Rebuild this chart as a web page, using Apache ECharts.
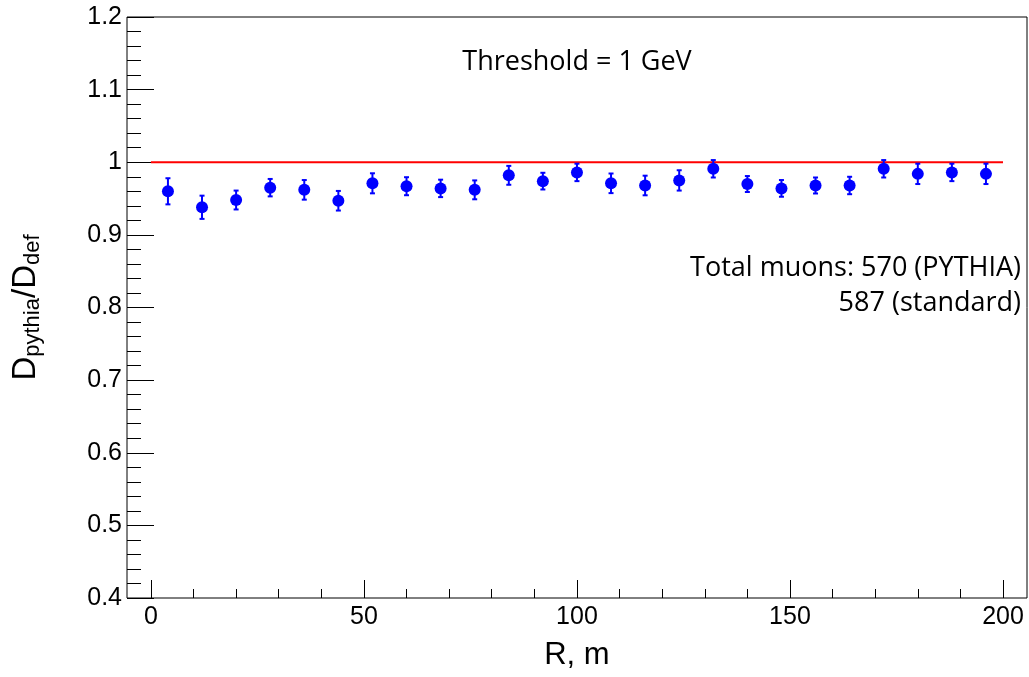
<!DOCTYPE html>
<html>
<head>
<meta charset="utf-8">
<script src="https://cdn.jsdelivr.net/npm/echarts@6/dist/echarts.min.js"></script>
<style>
  html, body { margin: 0; padding: 0; background: #fff; }
  #chart { width: 1029px; height: 677px; }
</style>
</head>
<body>
<div id="chart"></div>
<script>
// R bins (centres), ratio and its errors
const rValues = [4, 12, 20, 28, 36, 44, 52, 60, 68, 76, 84, 92, 100, 108, 116, 124, 132, 140, 148, 156, 164, 172, 180, 188, 196];
const ratio = [0.960, 0.938, 0.948, 0.965, 0.962, 0.947, 0.971, 0.967, 0.964, 0.962, 0.982, 0.974, 0.986,
               0.971, 0.968, 0.975, 0.991, 0.970, 0.964, 0.968, 0.968, 0.991, 0.984, 0.986, 0.984];
const ratioErr = [0.018, 0.016, 0.013, 0.012, 0.0135, 0.0135, 0.0138, 0.0124, 0.012, 0.013, 0.013, 0.0115, 0.012,
                  0.0135, 0.0135, 0.014, 0.012, 0.011, 0.0115, 0.011, 0.012, 0.012, 0.014, 0.012, 0.014];
const refLineX = [0, 200];
const refLineY = [1, 1];
const xTicks = { min: 0, max: 200, step: 50 };
const yTicks = { min: 0.4, max: 1.2, step: 0.1 };

const axisFont = 'Liberation Sans';

const points = rValues.map((r, i) => [r, ratio[i], ratioErr[i]]);
const refLine = refLineX.map((x, i) => [x, refLineY[i]]);

const chart = echarts.init(document.getElementById('chart'), null, { renderer: 'canvas' });

chart.setOption({
    animation: false,
    backgroundColor: '#fff',
    grid: [
        // frame
        { left: 127, right: 2, top: 17, bottom: 79, show: true, borderColor: '#000', borderWidth: 1, backgroundColor: 'transparent' },
        // data area (0..200 on x)
        { left: 150.9, right: 26, top: 17, bottom: 79, show: false }
    ],
    xAxis: [
        { gridIndex: 0, type: 'value', min: -5.6, max: 205.6, show: false },
        {
            gridIndex: 1, type: 'value', min: xTicks.min, max: xTicks.max, interval: xTicks.step,
            name: 'R, m', nameLocation: 'middle', nameGap: 42,
            nameTextStyle: { fontFamily: axisFont, fontSize: 31, color: '#000' },
            axisLine: { show: false, onZero: false },
            axisTick: { show: true, inside: true, length: 18, lineStyle: { color: '#000' } },
            minorTick: { show: true, splitNumber: 5, length: 9, lineStyle: { color: '#000' } },
            axisLabel: { fontFamily: axisFont, fontSize: 25, color: '#000', margin: 7 },
            splitLine: { show: false }
        }
    ],
    yAxis: [
        {
            gridIndex: 0, type: 'value', min: yTicks.min, max: yTicks.max, interval: yTicks.step,
            name: '{D|D}{s|pythia}{D|/D}{s|def}',
            nameLocation: 'middle', nameGap: 84, nameRotate: 90,
            nameTextStyle: {
                color: '#000',
                rich: {
                    D: { fontFamily: axisFont, fontSize: 33, lineHeight: 34, color: '#000' },
                    s: { fontFamily: axisFont, fontSize: 22, lineHeight: 22, padding: [14, 0, 0, 0], color: '#000' }
                }
            },
            axisLine: { show: false, onZero: false },
            axisTick: { show: true, inside: true, length: 27, lineStyle: { color: '#000' } },
            minorTick: { show: true, splitNumber: 5, length: 14, lineStyle: { color: '#000' } },
            axisLabel: { fontFamily: axisFont, fontSize: 25, color: '#000', margin: 5 },
            splitLine: { show: false }
        },
        { gridIndex: 1, type: 'value', min: yTicks.min, max: yTicks.max, show: false }
    ],
    series: [
        {
            type: 'line',
            xAxisIndex: 1, yAxisIndex: 1,
            data: refLine,
            symbol: 'none',
            lineStyle: { color: '#ff0000', width: 2 },
            z: 1
        },
        {
            type: 'custom',
            xAxisIndex: 1, yAxisIndex: 1,
            data: points,
            renderItem: function (params, api) {
                const x = api.value(0), y = api.value(1), e = api.value(2);
                const top = api.coord([x, y + e]);
                const bot = api.coord([x, y - e]);
                const w = 2.5;
                const style = { stroke: '#0000ff', lineWidth: 2 };
                return {
                    type: 'group',
                    children: [
                        { type: 'line', shape: { x1: top[0], y1: top[1], x2: bot[0], y2: bot[1] }, style: style },
                        { type: 'line', shape: { x1: top[0] - w, y1: top[1], x2: top[0] + w, y2: top[1] }, style: style },
                        { type: 'line', shape: { x1: bot[0] - w, y1: bot[1], x2: bot[0] + w, y2: bot[1] }, style: style }
                    ]
                };
            },
            z: 2
        },
        {
            type: 'scatter',
            xAxisIndex: 1, yAxisIndex: 1,
            data: points,
            symbol: 'circle',
            symbolSize: 12,
            itemStyle: { color: '#0000ff', opacity: 1 },
            z: 3
        }
    ],
    graphic: [
        {
            type: 'text', x: 577, y: 62,
            style: { text: 'Threshold = 1 GeV', font: '27px "Open Sans"', fill: '#000', align: 'center', verticalAlign: 'middle' }
        },
        {
            type: 'text', x: 1021, y: 268,
            style: { text: 'Total muons: 570 (PYTHIA)', font: '27px "Open Sans"', fill: '#000', align: 'right', verticalAlign: 'middle' }
        },
        {
            type: 'text', x: 1021, y: 303,
            style: { text: '587 (standard)', font: '27px "Open Sans"', fill: '#000', align: 'right', verticalAlign: 'middle' }
        }
    ]
});
</script>
</body>
</html>
